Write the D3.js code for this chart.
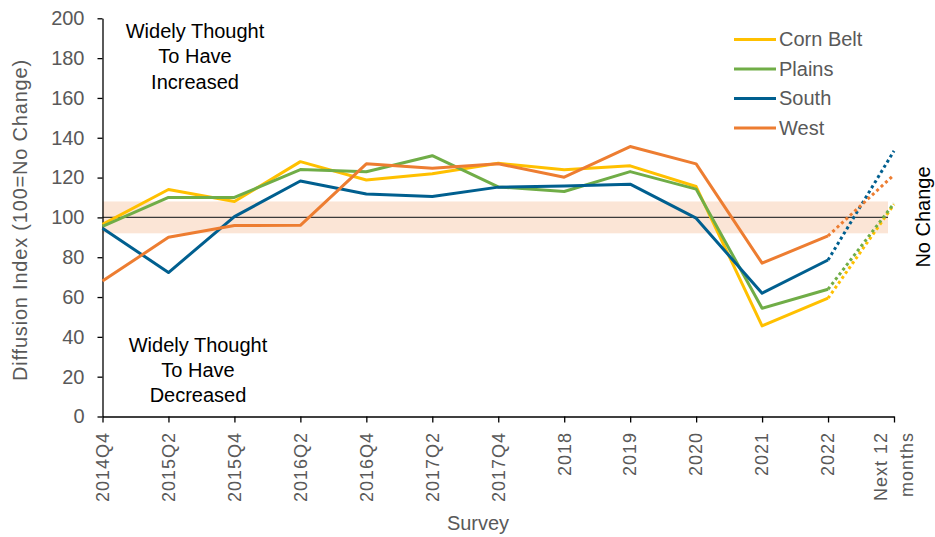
<!DOCTYPE html>
<html>
<head>
<meta charset="utf-8">
<script src="https://cdn.jsdelivr.net/npm/d3@7"></script>
<style>
  html, body { margin: 0; padding: 0; background: #fff; }
  svg { display: block; font-family: "Liberation Sans", Arial, sans-serif; }
</style>
</head>
<body>
<svg id="chart" width="935" height="537"></svg>
<script>
// ---- Data ----
const categories = ["2014Q4","2015Q2","2015Q4","2016Q2","2016Q4","2017Q2","2017Q4","2018","2019","2020","2021","2022","Next 12 months"];
const cornBelt = [96.5, 114, 108, 128, 118.8, 121.9, 127.2, 123.9, 125.9, 115.5, 45.5, 59.4, 106.5];
const plains   = [95.5, 110, 110, 124, 122.9, 131, 115.3, 113, 123, 114.2, 54.4, 63.9, 107];
const south    = [94.6, 72.3, 100.4, 118.3, 111.8, 110.5, 115.2, 115.8, 116.7, 99.6, 61.9, 78.6, 133.4];
const west     = [68, 90, 95.9, 96, 126.9, 124.7, 126.9, 120.2, 135.6, 126.9, 77, 90.7, 121.4];
const seriesNames = ["Corn Belt","Plains","South","West"];
const seriesColors = ["#FFC000","#70AD47","#005F8F","#ED7D31"];
const yTicks = [0,20,40,60,80,100,120,140,160,180,200];
const noChangeBand = [92, 108];
const noChangeLine = 100;

const seriesValues = [cornBelt, plains, south, west];

// ---- Layout ----
const svg = d3.select("#chart");
const x = d3.scalePoint().domain(categories).range([102.5, 894]);
const y = d3.scaleLinear().domain([0, 200]).range([416.5, 18.3]);
const gray = "#595959";

// band
svg.append("rect")
  .attr("x", x(categories[0]))
  .attr("width", 888 - x(categories[0]))
  .attr("y", y(noChangeBand[1]))
  .attr("height", y(noChangeBand[0]) - y(noChangeBand[1]))
  .attr("fill", "#FBE5D6");

// 100 line
svg.append("line")
  .attr("x1", x(categories[0])).attr("x2", 888)
  .attr("y1", y(noChangeLine)).attr("y2", y(noChangeLine))
  .attr("stroke", "#3a3a3a").attr("stroke-width", 1.1);

// axes
const yAxis = svg.append("g")
  .attr("transform", `translate(${x(categories[0])},0)`)
  .call(d3.axisLeft(y).tickValues(yTicks).tickSize(5).tickSizeOuter(0).tickPadding(13));
yAxis.select(".domain").attr("stroke", "#000").attr("stroke-width", 1.3);
yAxis.selectAll(".tick line").attr("stroke", "#000").attr("stroke-width", 1.3);
yAxis.selectAll(".tick text")
  .attr("fill", gray).attr("font-size", 20)
  .attr("font-family", "Liberation Sans, Arial, sans-serif");

const xAxis = svg.append("g")
  .attr("transform", `translate(0,${y(0)})`)
  .call(d3.axisBottom(x).tickSize(6).tickSizeOuter(0).tickFormat(""));
xAxis.select(".domain").attr("stroke", "#000").attr("stroke-width", 1.3);
xAxis.selectAll(".tick line").attr("stroke", "#000").attr("stroke-width", 1.3);

// x tick labels
const xl = svg.append("g").attr("font-size", 18).attr("fill", gray)
  .attr("letter-spacing", "1px");
categories.forEach(c => {
  const t = xl.append("text")
    .attr("transform", `translate(${x(c)},432) rotate(-90)`)
    .attr("text-anchor", "end");
  if (c === "Next 12 months") {
    t.append("tspan").attr("x", 0).attr("dy", -7.5).text("Next 12");
    t.append("tspan").attr("x", 0).attr("dy", 26.5).text("months");
  } else {
    t.attr("dy", "0.35em").text(c);
  }
});

// lines
const lastSolid = categories.length - 2;
seriesValues.forEach((vals, si) => {
  const pts = vals.map((v, i) => ({v, i}));
  const solid = pts.slice(0, lastSolid + 1);
  const dotted = pts.slice(lastSolid);
  const ln = d3.line().x(d => x(categories[d.i])).y(d => y(d.v));
  svg.append("path").attr("d", ln(solid))
    .attr("fill", "none").attr("stroke", seriesColors[si])
    .attr("stroke-width", 3).attr("stroke-linejoin", "round");
  svg.append("path").attr("d", ln(dotted))
    .attr("fill", "none").attr("stroke", seriesColors[si])
    .attr("stroke-width", 3).attr("stroke-dasharray", "3,3");
});

// legend
const lg = svg.append("g");
seriesNames.forEach((n, i) => {
  const yy = 39.5 + i * 29.5;
  lg.append("line").attr("x1", 734).attr("x2", 776).attr("y1", yy).attr("y2", yy)
    .attr("stroke", seriesColors[i]).attr("stroke-width", 3);
  lg.append("text").attr("x", 779).attr("y", yy + 6.5)
    .attr("font-size", 20).attr("fill", gray).text(n);
});

// annotations
function block(lines, cx, y0, dy) {
  const t = svg.append("text").attr("text-anchor", "middle")
    .attr("font-size", 20).attr("fill", "#000");
  lines.forEach((l, i) => t.append("tspan").attr("x", cx).attr("y", y0 + i * dy).text(l));
}
block(["Widely Thought", "To Have", "Increased"], 195, 37.5, 25.5);
block(["Widely Thought", "To Have", "Decreased"], 198, 351.5, 25.3);

svg.append("text")
  .attr("transform", "translate(930,217) rotate(-90)")
  .attr("text-anchor", "middle").attr("font-size", 20).attr("fill", "#000")
  .text("No Change");

// axis titles
svg.append("text")
  .attr("transform", "translate(27,220) rotate(-90)")
  .attr("text-anchor", "middle").attr("font-size", 20).attr("fill", gray)
  .attr("letter-spacing", "0.8px")
  .text("Diffusion Index (100=No Change)");
svg.append("text")
  .attr("x", 478).attr("y", 530)
  .attr("text-anchor", "middle").attr("font-size", 20).attr("fill", gray)
  .text("Survey");
</script>
</body>
</html>
